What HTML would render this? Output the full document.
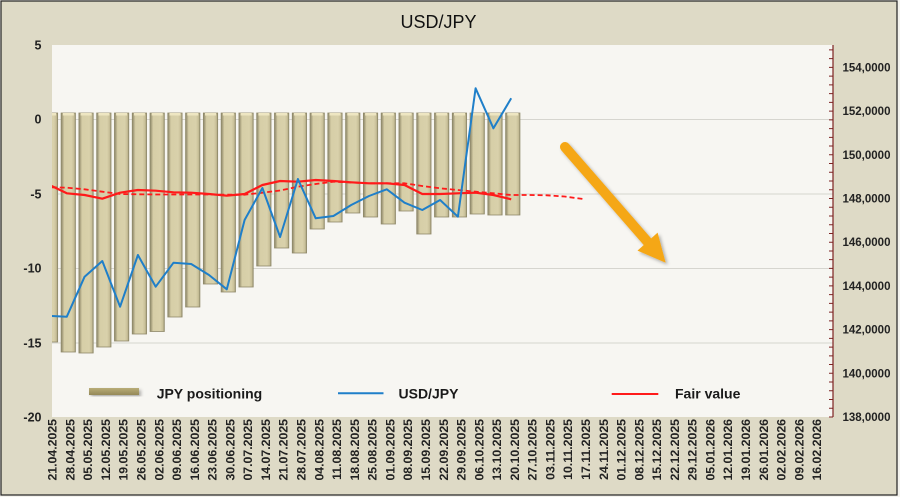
<!DOCTYPE html>
<html><head><meta charset="utf-8">
<style>
html,body{margin:0;padding:0;background:#f4f3ee;}
svg{display:block;font-family:"Liberation Sans",sans-serif;}
</style></head>
<body>
<svg width="900" height="497" viewBox="0 0 900 497" xmlns="http://www.w3.org/2000/svg">
<defs>
<linearGradient id="bg" x1="0" y1="0" x2="1" y2="0">
<stop offset="0" stop-color="#8a856b"/>
<stop offset="0.12" stop-color="#b3ab87"/>
<stop offset="0.22" stop-color="#d6cea7"/>
<stop offset="0.72" stop-color="#d9d1ab"/>
<stop offset="0.9" stop-color="#c8bf98"/>
<stop offset="1" stop-color="#9a9473"/>
</linearGradient>
<linearGradient id="lg" x1="0" y1="0" x2="0" y2="1">
<stop offset="0" stop-color="#b9ad78"/>
<stop offset="1" stop-color="#948858"/>
</linearGradient>
<clipPath id="pc"><rect x="52" y="45" width="781" height="372"/></clipPath>
<filter id="sh" x="-20%" y="-20%" width="140%" height="140%"><feDropShadow dx="2" dy="2" stdDeviation="1.5" flood-color="#000" flood-opacity="0.3"/></filter>
</defs>
<rect x="1" y="1" width="896" height="494" fill="#dedac6" stroke="#222" stroke-width="1.2"/>
<rect x="52" y="45" width="781" height="372" fill="#f7f6f2"/>
<g stroke="#d6d5cf" stroke-width="1">
<line x1="52" y1="119.5" x2="833" y2="119.5"/>
<line x1="52" y1="194" x2="833" y2="194"/>
<line x1="52" y1="268.5" x2="833" y2="268.5"/>
<line x1="52" y1="343" x2="833" y2="343"/>
</g>
<text x="438.5" y="28" font-size="18" text-anchor="middle" fill="#111">USD/JPY</text>
<g clip-path="url(#pc)" stroke="#8f8969" stroke-width="0.8" fill="url(#bg)">
<rect x="43.35" y="113" width="14.3" height="229"/>
<rect x="61.13" y="113" width="14.3" height="239"/>
<rect x="78.91" y="113" width="14.3" height="240"/>
<rect x="96.69" y="113" width="14.3" height="234"/>
<rect x="114.47" y="113" width="14.3" height="228"/>
<rect x="132.25" y="113" width="14.3" height="221"/>
<rect x="150.03" y="113" width="14.3" height="218.5"/>
<rect x="167.81" y="113" width="14.3" height="204"/>
<rect x="185.59" y="113" width="14.3" height="194"/>
<rect x="203.37" y="113" width="14.3" height="171"/>
<rect x="221.15" y="113" width="14.3" height="179"/>
<rect x="238.93" y="113" width="14.3" height="174"/>
<rect x="256.71" y="113" width="14.3" height="153"/>
<rect x="274.49" y="113" width="14.3" height="135"/>
<rect x="292.27" y="113" width="14.3" height="140"/>
<rect x="310.05" y="113" width="14.3" height="116"/>
<rect x="327.83" y="113" width="14.3" height="109"/>
<rect x="345.61" y="113" width="14.3" height="100"/>
<rect x="363.39" y="113" width="14.3" height="104"/>
<rect x="381.17" y="113" width="14.3" height="111"/>
<rect x="398.95" y="113" width="14.3" height="98"/>
<rect x="416.73" y="113" width="14.3" height="121"/>
<rect x="434.51" y="113" width="14.3" height="104"/>
<rect x="452.29" y="113" width="14.3" height="104"/>
<rect x="470.07" y="113" width="14.3" height="101"/>
<rect x="487.85" y="113" width="14.3" height="102"/>
<rect x="505.63" y="113" width="14.3" height="102"/>
</g>
<g clip-path="url(#pc)" fill="#eee6c2">
<rect x="45" y="113" width="11" height="2.5"/>
<rect x="62.8" y="113" width="11" height="2.5"/>
<rect x="80.6" y="113" width="11" height="2.5"/>
<rect x="98.4" y="113" width="11" height="2.5"/>
<rect x="116.1" y="113" width="11" height="2.5"/>
<rect x="133.9" y="113" width="11" height="2.5"/>
<rect x="151.7" y="113" width="11" height="2.5"/>
<rect x="169.5" y="113" width="11" height="2.5"/>
<rect x="187.3" y="113" width="11" height="2.5"/>
<rect x="205" y="113" width="11" height="2.5"/>
<rect x="222.8" y="113" width="11" height="2.5"/>
<rect x="240.6" y="113" width="11" height="2.5"/>
<rect x="258.4" y="113" width="11" height="2.5"/>
<rect x="276.2" y="113" width="11" height="2.5"/>
<rect x="293.9" y="113" width="11" height="2.5"/>
<rect x="311.7" y="113" width="11" height="2.5"/>
<rect x="329.5" y="113" width="11" height="2.5"/>
<rect x="347.3" y="113" width="11" height="2.5"/>
<rect x="365.1" y="113" width="11" height="2.5"/>
<rect x="382.8" y="113" width="11" height="2.5"/>
<rect x="400.6" y="113" width="11" height="2.5"/>
<rect x="418.4" y="113" width="11" height="2.5"/>
<rect x="436.2" y="113" width="11" height="2.5"/>
<rect x="454" y="113" width="11" height="2.5"/>
<rect x="471.7" y="113" width="11" height="2.5"/>
<rect x="489.5" y="113" width="11" height="2.5"/>
<rect x="507.3" y="113" width="11" height="2.5"/>
</g>
<g clip-path="url(#pc)" fill="none" stroke-linejoin="round">
<polyline stroke="#ff1a1a" stroke-width="1.8" stroke-dasharray="5,3" points="51.7,187.3 66.8,187.7 84.6,189.3 102.3,191.7 120.1,194 137.9,194.3 155.7,194.5 173.5,194.5 191.2,194.5 209,194.5 226.8,194.7 244.6,194.7 262.4,192.7 280.1,190.5 297.9,186.7 315.7,184 333.4,181.7 351.2,182.5 369,183.3 386.8,183.3 404.5,183.3 422.3,186 440.1,188.3 457.9,190 475.6,191.7 493.4,193.3 511.2,195 529,195 546.7,195.3 564.5,196.5 583,199"/>
<polyline stroke="#ff1a1a" stroke-width="2.2" points="51.7,186 66.8,193.3 84.6,195 102.3,198.7 120.1,192.7 137.9,190 155.7,190.7 173.5,192.3 191.2,192.7 209,194 226.8,195.7 244.6,194 262.4,185 280.1,181 297.9,181.7 315.7,180 333.4,181 351.2,182.3 369,183.3 386.8,183.3 404.5,185 422.3,194 440.1,194 457.9,193.3 475.6,192.7 493.4,195 511.2,199.3"/>
<polyline stroke="#1f7fc9" stroke-width="2" points="51.7,316 66.8,316.7 84.6,276.7 102.3,261 120.1,306.7 137.9,255 155.7,286.7 173.5,262.7 191.2,264 209,275 226.8,289.3 244.6,220 262.4,188 280.1,237 297.9,179 315.7,218.3 333.4,216 351.2,205 369,196 386.8,189.3 404.5,202.7 422.3,210 440.1,200 457.9,216.7 475.6,88.3 493.4,128.3 511.2,98.3"/>
</g>
<g filter="url(#sh)">
<line x1="565" y1="147" x2="649" y2="243.5" stroke="#f5a719" stroke-width="10" stroke-linecap="round"/>
<polygon points="665.7,262.7 637.5,250.6 657.6,232.6" fill="#f5a719"/>
</g>
<line x1="833" y1="45" x2="833" y2="417" stroke="#7d2222" stroke-width="1.2"/>
<path stroke="#7d2222" stroke-width="1" d="M829 417H833M829 408.26H833M829 399.52H833M829 390.78H833M829 382.04H833M829 373.3H833M829 364.56H833M829 355.82H833M829 347.08H833M829 338.34H833M829 329.6H833M829 320.86H833M829 312.12H833M829 303.38H833M829 294.64H833M829 285.9H833M829 277.16H833M829 268.42H833M829 259.68H833M829 250.94H833M829 242.2H833M829 233.46H833M829 224.72H833M829 215.98H833M829 207.24H833M829 198.5H833M829 189.76H833M829 181.02H833M829 172.28H833M829 163.54H833M829 154.8H833M829 146.06H833M829 137.32H833M829 128.58H833M829 119.84H833M829 111.1H833M829 102.36H833M829 93.62H833M829 84.88H833M829 76.14H833M829 67.4H833M829 58.66H833M829 49.92H833"/>
<g font-size="11.5" font-weight="bold" fill="#222">
<text x="842.5" y="421">138,0000</text>
<text x="842.5" y="377.3">140,0000</text>
<text x="842.5" y="333.6">142,0000</text>
<text x="842.5" y="289.9">144,0000</text>
<text x="842.5" y="246.2">146,0000</text>
<text x="842.5" y="202.5">148,0000</text>
<text x="842.5" y="158.8">150,0000</text>
<text x="842.5" y="115.1">152,0000</text>
<text x="842.5" y="71.4">154,0000</text>
</g>
<g font-size="12.5" font-weight="bold" fill="#222" text-anchor="end">
<text x="41.5" y="49.5">5</text>
<text x="41.5" y="123.5">0</text>
<text x="41.5" y="198.5">-5</text>
<text x="41.5" y="272.5">-10</text>
<text x="41.5" y="347.5">-15</text>
<text x="41.5" y="421.5">-20</text>
</g>
<rect x="89" y="388" width="50" height="7" fill="url(#lg)" filter="url(#sh)"/>
<line x1="338" y1="393.3" x2="383.5" y2="393.3" stroke="#1f7fc9" stroke-width="2"/>
<line x1="611.7" y1="394" x2="658.3" y2="394" stroke="#ff1a1a" stroke-width="2"/>
<g font-size="14" font-weight="bold" fill="#1a1a1a">
<text x="156.7" y="398.5">JPY positioning</text>
<text x="398.5" y="398.5">USD/JPY</text>
<text x="675" y="398.5">Fair value</text>
</g>
<g font-size="12.3" font-weight="bold" fill="#222" text-anchor="end">
<text transform="translate(56.6,419) rotate(-90)">21.04.2025</text>
<text transform="translate(74.38,419) rotate(-90)">28.04.2025</text>
<text transform="translate(92.16,419) rotate(-90)">05.05.2025</text>
<text transform="translate(109.94,419) rotate(-90)">12.05.2025</text>
<text transform="translate(127.72,419) rotate(-90)">19.05.2025</text>
<text transform="translate(145.5,419) rotate(-90)">26.05.2025</text>
<text transform="translate(163.28,419) rotate(-90)">02.06.2025</text>
<text transform="translate(181.06,419) rotate(-90)">09.06.2025</text>
<text transform="translate(198.84,419) rotate(-90)">16.06.2025</text>
<text transform="translate(216.62,419) rotate(-90)">23.06.2025</text>
<text transform="translate(234.4,419) rotate(-90)">30.06.2025</text>
<text transform="translate(252.18,419) rotate(-90)">07.07.2025</text>
<text transform="translate(269.96,419) rotate(-90)">14.07.2025</text>
<text transform="translate(287.74,419) rotate(-90)">21.07.2025</text>
<text transform="translate(305.52,419) rotate(-90)">28.07.2025</text>
<text transform="translate(323.3,419) rotate(-90)">04.08.2025</text>
<text transform="translate(341.08,419) rotate(-90)">11.08.2025</text>
<text transform="translate(358.86,419) rotate(-90)">18.08.2025</text>
<text transform="translate(376.64,419) rotate(-90)">25.08.2025</text>
<text transform="translate(394.42,419) rotate(-90)">01.09.2025</text>
<text transform="translate(412.2,419) rotate(-90)">08.09.2025</text>
<text transform="translate(429.98,419) rotate(-90)">15.09.2025</text>
<text transform="translate(447.76,419) rotate(-90)">22.09.2025</text>
<text transform="translate(465.54,419) rotate(-90)">29.09.2025</text>
<text transform="translate(483.32,419) rotate(-90)">06.10.2025</text>
<text transform="translate(501.1,419) rotate(-90)">13.10.2025</text>
<text transform="translate(518.88,419) rotate(-90)">20.10.2025</text>
<text transform="translate(536.66,419) rotate(-90)">27.10.2025</text>
<text transform="translate(554.44,419) rotate(-90)">03.11.2025</text>
<text transform="translate(572.22,419) rotate(-90)">10.11.2025</text>
<text transform="translate(590,419) rotate(-90)">17.11.2025</text>
<text transform="translate(607.78,419) rotate(-90)">24.11.2025</text>
<text transform="translate(625.56,419) rotate(-90)">01.12.2025</text>
<text transform="translate(643.34,419) rotate(-90)">08.12.2025</text>
<text transform="translate(661.12,419) rotate(-90)">15.12.2025</text>
<text transform="translate(678.9,419) rotate(-90)">22.12.2025</text>
<text transform="translate(696.68,419) rotate(-90)">29.12.2025</text>
<text transform="translate(714.46,419) rotate(-90)">05.01.2026</text>
<text transform="translate(732.24,419) rotate(-90)">12.01.2026</text>
<text transform="translate(750.02,419) rotate(-90)">19.01.2026</text>
<text transform="translate(767.8,419) rotate(-90)">26.01.2026</text>
<text transform="translate(785.58,419) rotate(-90)">02.02.2026</text>
<text transform="translate(803.36,419) rotate(-90)">09.02.2026</text>
<text transform="translate(821.14,419) rotate(-90)">16.02.2026</text>
</g>
</svg>
</body></html>
